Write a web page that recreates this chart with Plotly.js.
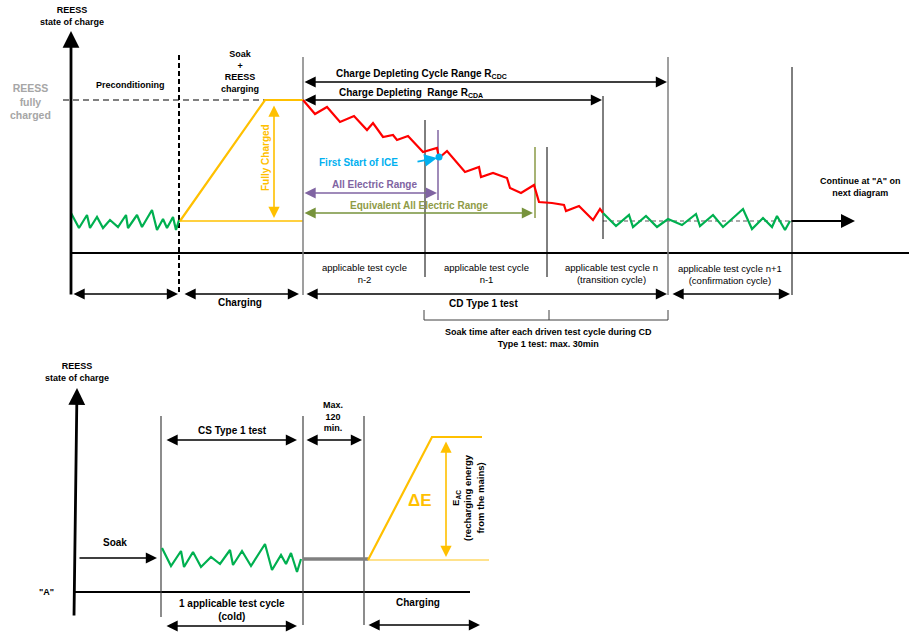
<!DOCTYPE html>
<html><head><meta charset="utf-8">
<script src="https://cdn.plot.ly/plotly-3.0.1.min.js"></script>
<style>html,body{margin:0;padding:0;background:#fff}#chart{width:909px;height:634px}</style>
</head><body><div id="chart"></div>
<script>
// ---------- DATA (diagram coordinates: x to the right, y downward) ----------
// Top diagram: state-of-charge traces
const precondX = [71,79,87,90,97,103,110,118,126,128,137,142,152,157,163,167,173,176,179];
const precondY = [213,228,215,228,217,228,220,227,215,228,215,227,210,230,219,228,217,230,220];
const chargeX = [180,265,303];
const chargeY = [221,100,100];
const depleteX = [303,315,327,340,354,367,373,383,393,397,408,423,437,439,447,465,479,481,493,507,510,521,534,539,552,564,566,579,593,600,603];
const depleteY = [100,114,107,122,116,130,123,137,135,140,136,152,148,158,151,172,167,177,173,178,188,193,185,202,203,205,211,206,220,209,213];
const sustainX = [603,616,629,633,646,657,668,682,696,700,713,723,743,752,763,772,777,785,790];
const sustainY = [213,226,215,227,216,227,219,225,214,226,215,227,209,229,218,227,216,230,221];
const iceX = [439];
const iceY = [157];
// cycle boundaries (x, top, bottom)
const boundX = [425,547,603,792];
const boundTop = [120,147,96,67];
const boundBot = [277,277,239,295];
const grayBoundX = [303,668];
const grayBoundTop = [57,57];
const grayBoundBot = [295,295];
// Bottom diagram
const csX = [162,171,181,184,193,201,211,220,230,233,242,251,265,272,281,286,291,297,301];
const csY = [548,566,551,567,552,567,557,564,550,565,551,566,544,570,555,564,553,572,559];
const soakLineX = [303,368];
const soakLineY = [559,559];
const rechargeX = [368,432,482];
const rechargeY = [560,437,437];
const bottomBoundX = [161,303,364];
const bottomBoundTop = [416,416,416];
const bottomBoundBot = [617,625,625];

// ---------- TRACES ----------
const traces = [];
function line(x,y,color,width,dash){
  traces.push({type:'scatter',mode:'lines',x:x,y:y,line:{color:color,width:width,dash:dash||'solid'},hoverinfo:'skip',showlegend:false});
}
function vlines(xs,top,bot,color,width,dash){
  const x=[],y=[];
  xs.forEach((v,i)=>{x.push(v,v,null);y.push(top[i],bot[i],null);});
  line(x,y,color,width,dash);
}
// top axes
line([71,909],[253,253],'#000',2);
line([63,265],[100,100],'#7f7f7f',2,'6px,4px');
line([180,303],[221,221],'#ffc000',1.5);
line([603,790],[221,221],'#595959',1.2,'4px,3px');
vlines(grayBoundX,grayBoundTop,grayBoundBot,'#7f7f7f',1.5);
vlines(boundX,boundTop,boundBot,'#000',1);
vlines([438],[130],[200],'#8064a2',1.5);
vlines([535],[147],[218],'#8a9a46',1.5);
vlines([179],[55],[295],'#000',2,'5px,3px');
// soak bracket
line([424,424,668,668,null,549,549],[310,320,320,310,null,320,310],'#404040',1);
line(precondX,precondY,'#00b050',2.2);
line(chargeX,chargeY,'#ffc000',2.2);
line(depleteX,depleteY,'#ff0000',2.2);
line(sustainX,sustainY,'#00b050',2.2);
// bottom diagram
line([75,470],[592,592],'#000',2);
vlines(bottomBoundX,bottomBoundTop,bottomBoundBot,'#404040',1.2);
line(csX,csY,'#00b050',2.2);
line(soakLineX,soakLineY,'#808080',3.5);
line([368,489],[560,560],'#ffd966',1.5);
line(rechargeX,rechargeY,'#ffc000',2.2);
traces.push({type:'scatter',mode:'markers',x:iceX,y:iceY,marker:{color:'#00b0f0',size:7},hoverinfo:'skip',showlegend:false});

// ---------- ANNOTATIONS ----------
const ann = [];
function arrow(x0,y0,x1,y1,color,width,both,size){
  ann.push({x:x1,y:y1,ax:x0,ay:y0,xref:'x',yref:'y',axref:'x',ayref:'y',text:'',showarrow:true,
    arrowhead:2,arrowsize:size||1.4,arrowwidth:width,arrowcolor:color,arrowside:both?'end+start':'end',standoff:0,startstandoff:0});
}
function label(x,y,text,size,color,opts){
  ann.push(Object.assign({x:x,y:y,xref:'x',yref:'y',text:text,showarrow:false,xanchor:'center',yanchor:'middle',
    font:{family:'Liberation Sans, Arial, sans-serif',size:size,color:color||'#000'}},opts||{}));
}
// axes arrows
arrow(71,296,71,31,'#000',2.8,false,1.2);
arrow(74,617,77,388,'#000',2.8,false,1.2);
// top arrows
arrow(303,82,667,82,'#000',1.6,true);
arrow(303,100,602,100,'#000',1.6,true);
arrow(303,193,437,193,'#8064a2',1.6,true);
arrow(303,213,533,213,'#77933c',1.6,true);
arrow(274,104,274,218,'#ffc000',1.6,true);
arrow(416,162,437,158,'#00b0f0',1.8,false);
arrow(790,221,855,221,'#000',2,false);
arrow(72,294,178,294,'#000',1.6,true);
arrow(183,294,299,294,'#000',1.6,true);
arrow(305,294,667,294,'#000',1.6,true);
arrow(671,294,790,294,'#000',1.6,true);
// bottom arrows
arrow(78,558,157,558,'#000',1.6,false);
arrow(165,440,297,440,'#000',1.6,true);
arrow(305,440,362,440,'#000',1.6,true);
arrow(446,440,446,557,'#ffc000',1.6,true);
arrow(165,626,297,626,'#000',1.6,true);
arrow(367,625,480,625,'#000',1.6,true);

// top labels
label(72,16,'<b>REESS<br>state of charge</b>',9);
label(30,101,'<b>REESS<br>fully<br>charged</b>',10.5,'#a6a6a6');
label(130,85,'<b>Preconditioning</b>',9);
label(240,71,'<b>Soak<br>+<br>REESS<br>charging</b>',9);
label(265,158,'<b>Fully Charged</b>',10,'#ffc000',{textangle:-90});
label(421,74,'<b>Charge Depleting Cycle Range R<sub>CDC</sub></b>',10);
label(411,93,'<b>Charge Depleting  Range R<sub>CDA</sub></b>',10);
label(358,162,'<b>First Start of ICE</b>',10,'#00b0f0');
label(374,184,'<b>All Electric Range</b>',10,'#8064a2');
label(419,205,'<b>Equivalent All Electric Range</b>',10,'#8f9b47');
label(860,187,'<b>Continue at "A" on<br>next diagram</b>',9);
label(364,273,'applicable test cycle<br>n-2',9.5);
label(486,273,'applicable test cycle<br>n-1',9.5);
label(611,273,'applicable test cycle n<br>(transition cycle)',9.5);
label(730,274,'applicable test cycle n+1<br>(confirmation cycle)',9.5);
label(240,302,'<b>Charging</b>',10);
label(483,303,'<b>CD Type 1 test</b>',10);
label(548,338,'<b>Soak time after each driven test cycle during CD<br>Type 1 test: max. 30min</b>',9);
// bottom labels
label(77,372,'<b>REESS<br>state of charge</b>',9);
label(46,592,'<b>"A"</b>',9);
label(115,542,'<b>Soak</b>',10);
label(232,430,'<b>CS Type 1 test</b>',10);
label(333,416,'<b>Max.<br>120<br>min.</b>',9);
label(420,500,'<b>ΔE</b>',17,'#ffc000');
label(468,498,'<b>E<sub>AC</sub><br>(recharging energy<br>from the mains)</b>',9.5,'#000',{textangle:-90});
label(232,610,'<b>1 applicable test cycle<br>(cold)</b>',10);
label(418,602,'<b>Charging</b>',10);

const layout = {
  width:909,height:634,margin:{l:0,r:0,t:0,b:0},paper_bgcolor:'#fff',plot_bgcolor:'#fff',
  xaxis:{range:[0,909],visible:false,fixedrange:true},
  yaxis:{range:[634,0],visible:false,fixedrange:true},
  annotations:ann,showlegend:false
};
Plotly.newPlot('chart',traces,layout,{staticPlot:true});
</script></body></html>
